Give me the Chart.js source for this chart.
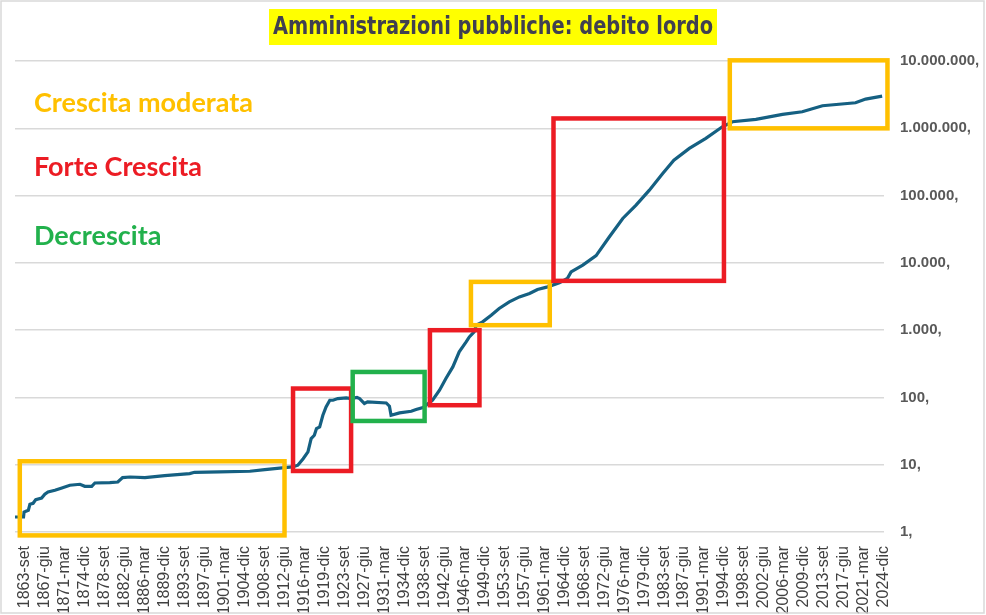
<!DOCTYPE html>
<html>
<head>
<meta charset="utf-8">
<script src="https://cdn.jsdelivr.net/npm/chart.js@4.4.1/dist/chart.umd.min.js"></script>
<style>
  body { margin: 0; background: #fff; }
  #wrap { width: 986px; height: 615px; }
</style>
</head>
<body>
<div id="wrap"><canvas id="debtChart" width="986" height="615"></canvas></div>
<script>
// Dati (anno decimale, debito)
const anni = [
  1861.8, 1863.4, 1863.5, 1864.3, 1864.6, 1865.2, 1865.7, 1866.8, 1867.4, 1868.0,
  1869.3, 1870.6, 1872.1, 1874.0, 1874.9, 1876.2, 1876.8, 1879.6, 1881.1, 1882.0,
  1883.4, 1886.2, 1889.9, 1894.6, 1895.5, 1900.2, 1905.9, 1908.7, 1912.4, 1913.9,
  1914.9, 1915.9, 1916.8, 1917.4, 1918.0, 1918.4, 1919.0, 1919.6, 1920.2, 1920.9,
  1921.5, 1922.4, 1924.0, 1924.9, 1926.0, 1926.5, 1927.4, 1928.0, 1931.5, 1932.1,
  1932.4, 1934.0, 1936.2, 1937.1, 1938.4, 1940.2, 1941.5, 1942.7, 1944.0, 1945.2,
  1946.5, 1947.1, 1948.0, 1948.4, 1949.6, 1951.2, 1952.7, 1954.6, 1956.5, 1958.4,
  1959.9, 1961.8, 1964.0, 1965.5, 1966.2, 1968.4, 1970.9, 1973.4, 1975.9, 1978.4,
  1980.9, 1983.4, 1985.5, 1988.4, 1991.5, 1994.6, 1996.5, 2000.9, 2005.9, 2009.6,
  2013.4, 2019.6, 2021.5, 2024.6
];
const debito = [
  1.67, 1.67, 1.98, 2.10, 2.58, 2.67, 3.03, 3.20, 3.64, 3.93,
  4.17, 4.51, 4.95, 5.12, 4.78, 4.78, 5.35, 5.43, 5.54, 6.44,
  6.57, 6.44, 6.90, 7.38, 7.72, 7.80, 8.00, 8.47, 9.07, 9.26,
  9.82, 12.3, 15.5, 24.5, 27.4, 34.5, 36.4, 54.3, 72.3, 90.8,
  90.8, 96.3, 98.3, 96.3, 100, 96.3, 81.1, 85.7, 82.8, 74.0,
  54.3, 58.9, 62.4, 66.1, 70.8, 90.8, 128, 191, 284, 476,
  669, 794, 942, 1185, 1327, 1668, 2099, 2633, 3120, 3506,
  4020, 4395, 5044, 5866, 7350, 9250, 12800, 24400, 45700, 72100,
  120500, 213500, 336500, 502000, 707000, 1052000, 1250000, 1356000, 1610000, 1758000,
  2161000, 2394000, 2718000, 3013000
];

const etichetteX = [
  '1863-set', '1867-giu', '1871-mar', '1874-dic', '1878-set', '1882-giu', '1886-mar', '1889-dic',
  '1893-set', '1897-giu', '1901-mar', '1904-dic', '1908-set', '1912-giu', '1916-mar', '1919-dic',
  '1923-set', '1927-giu', '1931-mar', '1934-dic', '1938-set', '1942-giu', '1946-mar', '1949-dic',
  '1953-set', '1957-giu', '1961-mar', '1964-dic', '1968-set', '1972-giu', '1976-mar', '1979-dic',
  '1983-set', '1987-giu', '1991-mar', '1994-dic', '1998-set', '2002-giu', '2006-mar', '2009-dic',
  '2013-set', '2017-giu', '2021-mar', '2024-dic'
];
const ticksY = [1, 10, 100, 1000, 10000, 100000, 1000000, 10000000];

// Riquadri delle fasi: [anno inizio, anno fine, valore min, valore max, tipo]
const riquadri = [
  [1862.7, 1912.4, 0.89, 11.25, 'moderata'],
  [1914.0, 1924.9, 8.07, 135.6, 'forte'],
  [1925.2, 1938.7, 44.7, 239, 'decrescita'],
  [1939.7, 1949.0, 76.6, 998, 'forte'],
  [1947.4, 1962.2, 1185, 5215, 'moderata'],
  [1962.9, 1994.9, 5400, 1400000, 'forte'],
  [1996.0, 2025.6, 998000, 10230000, 'moderata']
];

const legenda = [
  ['Crescita moderata', 'moderata'],
  ['Forte Crescita', 'forte'],
  ['Decrescita', 'decrescita']
];

const colori = {
  moderata: '#FFC000',
  forte: '#EC1C24',
  decrescita: '#22B14C'
};

const mesi = { gen: 1, feb: 2, mar: 3, apr: 4, mag: 5, giu: 6, lug: 7, ago: 8, set: 9, ott: 10, nov: 11, dic: 12 };
function annoDaEtichetta(s) {
  const [a, m] = s.split('-');
  return parseInt(a, 10) + (mesi[m] - 1) / 12;
}
function formatta(v) {
  return String(v).replace(/\B(?=(\d{3})+(?!\d))/g, '.') + ',';
}

// Titolo, legenda a sinistra, riquadri colorati e bordo
const decorazioni = {
  id: 'decorazioni',
  afterDatasetsDraw(chart) {
    const { ctx, scales } = chart;
    const x = scales.x, y = scales.y;
    ctx.save();
    ctx.lineWidth = 4.5;
    riquadri.forEach(r => {
      const x0 = x.getPixelForValue(r[0]);
      const x1 = x.getPixelForValue(r[1]);
      const y0 = y.getPixelForValue(r[3]);
      const y1 = y.getPixelForValue(r[2]);
      ctx.strokeStyle = colori[r[4]];
      ctx.strokeRect(x0, y0, x1 - x0, y1 - y0);
    });
    ctx.restore();
  },
  afterDraw(chart) {
    const { ctx, width, height } = chart;
    ctx.save();
    // titolo (carattere condensato, stretto in orizzontale)
    const titolo = 'Amministrazioni pubbliche: debito lordo';
    const cx = 493;
    ctx.fillStyle = '#FFFF00';
    ctx.fillRect(269, 9, 448, 36);
    ctx.font = 'bold 24px "DejaVu Sans Condensed", "DejaVu Sans", sans-serif';
    const w = ctx.measureText(titolo).width;
    const sx = 440 / w;
    ctx.translate(cx, 28);
    ctx.scale(sx, 1);
    ctx.fillStyle = '#404050';
    ctx.textAlign = 'center';
    ctx.textBaseline = 'middle';
    ctx.fillText(titolo, 0, 0);
    ctx.setTransform(1, 0, 0, 1, 0, 0);
    // legenda
    ctx.textAlign = 'left';
    ctx.textBaseline = 'middle';
    ctx.font = 'bold 27px Lato, sans-serif';
    const posY = [103, 167, 236];
    legenda.forEach((l, i) => {
      ctx.fillStyle = colori[l[1]];
      ctx.fillText(l[0], 34, posY[i]);
    });
    // bordo
    ctx.strokeStyle = '#d9d9d9';
    ctx.lineWidth = 1.5;
    ctx.strokeRect(1, 1, width - 3, height - 3);
    ctx.restore();
  }
};

const ctx = document.getElementById('debtChart').getContext('2d');
new Chart(ctx, {
  type: 'line',
  data: {
    datasets: [{
      label: 'Debito lordo',
      data: anni.map((a, i) => ({ x: a, y: debito[i] })),
      borderColor: '#156082',
      borderWidth: 3.2,
      pointRadius: 0,
      tension: 0,
      fill: false
    }]
  },
  options: {
    responsive: false,
    devicePixelRatio: 1,
    animation: false,
    layout: { padding: { top: 61, left: 15, right: 0, bottom: 0 } },
    plugins: {
      legend: { display: false },
      tooltip: { enabled: false }
    },
    scales: {
      x: {
        type: 'linear',
        min: 1861.8,
        max: 2024.95,
        grid: { display: false },
        border: { display: false },
        afterBuildTicks(scale) {
          scale.ticks = etichetteX.map(e => ({ value: annoDaEtichetta(e) }));
        },
        afterFit(scale) { scale.height = 83; },
        ticks: {
          autoSkip: false,
          minRotation: 90,
          maxRotation: 90,
          padding: 6,
          color: '#404040',
          font: { family: '"Liberation Sans", Arial, sans-serif', size: 16 },
          callback: (v, i) => etichetteX[i]
        }
      },
      y: {
        type: 'logarithmic',
        position: 'right',
        min: 1,
        max: 10000000,
        grid: { color: '#d9d9d9', lineWidth: 1.5, drawTicks: false },
        border: { display: false },
        afterBuildTicks(scale) {
          scale.ticks = ticksY.map(v => ({ value: v }));
        },
        afterFit(scale) { scale.width = 102; },
        ticks: {
          padding: 16,
          color: '#595959',
          font: { family: '"Liberation Sans", Arial, sans-serif', size: 15, weight: 'bold' },
          callback: v => formatta(v)
        }
      }
    }
  },
  plugins: [decorazioni]
});
</script>
</body>
</html>
